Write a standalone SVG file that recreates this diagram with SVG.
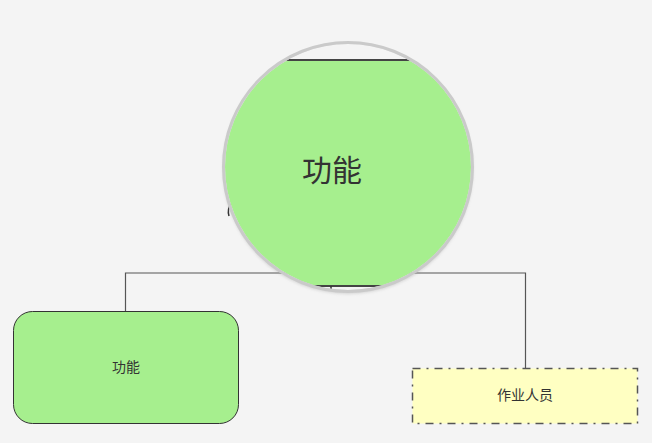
<svg xmlns="http://www.w3.org/2000/svg" width="652" height="443" viewBox="0 0 652 443">
<defs>
<style>
.conn{fill:none;stroke:#555;stroke-width:1.2}
.lbl{font-family:"Liberation Sans","Noto Sans CJK SC",sans-serif;fill:#333;text-anchor:middle;dominant-baseline:central}
</style>
<clipPath id="lens"><circle cx="348" cy="167" r="123"/></clipPath>
<filter id="sh" x="-10%" y="-10%" width="120%" height="125%"><feGaussianBlur stdDeviation="1.5"/></filter>
</defs>
<rect width="652" height="443" fill="#f4f4f4"/>
<g id="connectors">
<path class="conn" d="M125.5 311 V273 H525.5 V368"/>
</g>
<g id="node-func-small">
<rect x="13.5" y="311.5" width="225" height="112" rx="19" fill="#a6ef8e" stroke="#333" stroke-width="1"/>
<text class="lbl" x="126" y="367" font-size="14">功能</text>
</g>
<g id="node-worker">
<rect x="412.5" y="368.5" width="225" height="55" fill="#ffffc2" stroke="#555" stroke-width="1.5" stroke-dasharray="8 6 2 6"/>
<text class="lbl" x="525" y="395" font-size="14" fill="#444">作业人员</text>
</g>
<g id="node-func-main">
<path d="M231 204 Q227 209 229 216" fill="none" stroke="#333" stroke-width="1.5"/>
<circle cx="348" cy="169" r="125" fill="#999" opacity="0.35" filter="url(#sh)"/>
<g clip-path="url(#lens)">
<rect x="220" y="40" width="260" height="260" fill="#f4f4f4"/>
<rect x="150" y="60" width="400" height="226" fill="#a6ef8e" stroke="#444" stroke-width="2"/>
<line x1="331" y1="286" x2="331" y2="290" stroke="#333" stroke-width="1.5"/>
</g>
<circle cx="348" cy="167" r="124.5" fill="none" stroke="#cacaca" stroke-width="3"/>
<text class="lbl" x="332" y="170" font-size="30">功能</text>
</g>
</svg>
